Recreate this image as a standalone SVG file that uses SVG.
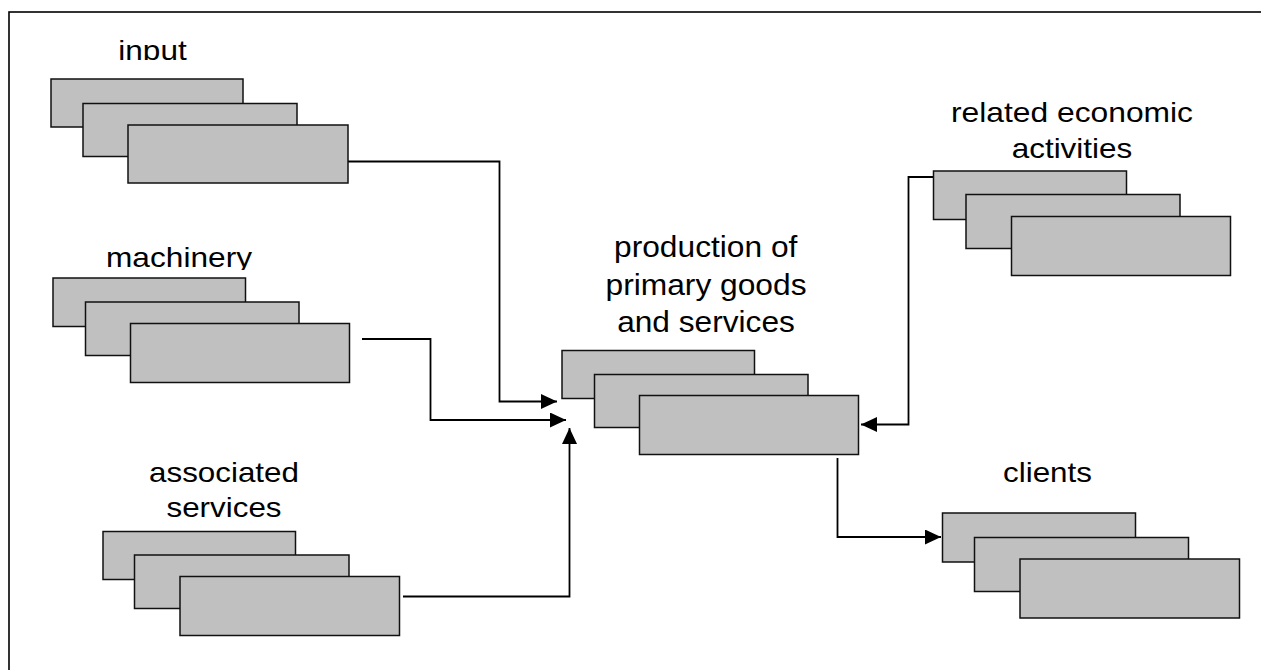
<svg xmlns="http://www.w3.org/2000/svg" width="1261" height="670" viewBox="0 0 1261 670">
  <style>
    .box { fill: #c0c0c0; stroke: #111; stroke-width: 1.5; }
    .lbl { font-family: "Liberation Sans", Arial, sans-serif; font-size: 28.5px; fill: #000; text-anchor: middle; }
    .big { font-size: 30px; }
    .conn { fill: none; stroke: #000; stroke-width: 1.8; marker-end: url(#arrow); }
  </style>
  <defs>
    <marker id="arrow" markerUnits="userSpaceOnUse" markerWidth="16" markerHeight="15" refX="16" refY="7.5" orient="auto">
      <path d="M0,0 L16,7.5 L0,15 z" fill="#000"/>
    </marker>
    <clipPath id="clipInput"><rect x="0" y="0" width="400" height="60"/></clipPath>
    <clipPath id="clipMach"><rect x="0" y="200" width="400" height="70"/></clipPath>
  </defs>
  <rect width="1261" height="670" fill="#fff"/>
  <rect id="frame" x="9" y="12" width="1300" height="720" fill="none" stroke="#000" stroke-width="1.6"/>

  <g id="connectors">
    <path class="conn" d="M348,161.5 H499.5 V401.5 H557"/>
    <path class="conn" d="M362,339 H430.5 V420 H566"/>
    <path class="conn" d="M403,596.5 H569.5 V428"/>
    <path class="conn" d="M933,177 H908.5 V424.5 H861"/>
    <path class="conn" d="M837.5,458 V537 H941"/>
  </g>

  <g id="input">
    <text class="lbl" x="152.5" y="59.5" textLength="68.4" lengthAdjust="spacingAndGlyphs" clip-path="url(#clipInput)">input</text>
    <rect class="box" x="51" y="79" width="192" height="48"/>
    <rect class="box" x="83" y="103.5" width="214" height="53"/>
    <rect class="box" x="128" y="125" width="220" height="58"/>
  </g>

  <g id="machinery">
    <text class="lbl" x="179" y="267" textLength="146" lengthAdjust="spacingAndGlyphs" clip-path="url(#clipMach)">machinery</text>
    <rect class="box" x="53" y="278" width="192.5" height="48.5"/>
    <rect class="box" x="85.5" y="302" width="213.5" height="53.5"/>
    <rect class="box" x="130.5" y="323.5" width="219" height="59"/>
  </g>

  <g id="associated-services">
    <text class="lbl" x="224" y="481.7" textLength="150" lengthAdjust="spacingAndGlyphs">associated</text>
    <text class="lbl" x="224" y="517.3" textLength="115" lengthAdjust="spacingAndGlyphs">services</text>
    <rect class="box" x="103" y="531.5" width="192.5" height="48"/>
    <rect class="box" x="134.5" y="555" width="214.5" height="53.5"/>
    <rect class="box" x="180" y="576.5" width="219.5" height="59"/>
  </g>

  <g id="production">
    <text class="lbl big" x="705.7" y="257" textLength="183.3" lengthAdjust="spacingAndGlyphs">production of</text>
    <text class="lbl big" x="706" y="294.5" textLength="201" lengthAdjust="spacingAndGlyphs">primary goods</text>
    <text class="lbl big" x="706" y="332" textLength="177.7" lengthAdjust="spacingAndGlyphs">and services</text>
    <rect class="box" x="562" y="350.5" width="192.5" height="48"/>
    <rect class="box" x="594.5" y="374.5" width="213.5" height="53"/>
    <rect class="box" x="639.5" y="395.5" width="219" height="59"/>
  </g>

  <g id="related-economic-activities">
    <text class="lbl" x="1072" y="121.7" textLength="242" lengthAdjust="spacingAndGlyphs">related economic</text>
    <text class="lbl" x="1072" y="158.3" textLength="120.6" lengthAdjust="spacingAndGlyphs">activities</text>
    <rect class="box" x="933.5" y="171" width="193" height="48.5"/>
    <rect class="box" x="966" y="194.5" width="214" height="54"/>
    <rect class="box" x="1011.5" y="216.5" width="219" height="59"/>
  </g>

  <g id="clients">
    <text class="lbl" x="1047.5" y="482.3" textLength="89" lengthAdjust="spacingAndGlyphs">clients</text>
    <rect class="box" x="942.5" y="513" width="193" height="49"/>
    <rect class="box" x="974.5" y="537.5" width="214" height="54"/>
    <rect class="box" x="1020" y="559" width="219.5" height="59"/>
  </g>
</svg>
